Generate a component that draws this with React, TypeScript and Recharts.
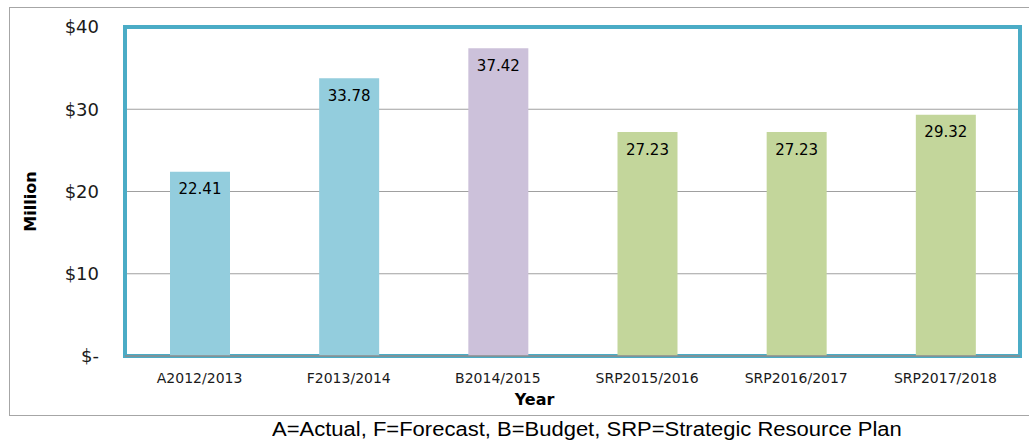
import React from 'react';
import { BarChart, Bar, XAxis, YAxis, CartesianGrid, Cell, LabelList, Label, ReferenceArea } from 'recharts';

const years = ['A2012/2013', 'F2013/2014', 'B2014/2015', 'SRP2015/2016', 'SRP2016/2017', 'SRP2017/2018'];
const amounts = [22.41, 33.78, 37.42, 27.23, 27.23, 29.32];
const barColors = ['#93cddd', '#93cddd', '#ccc1da', '#c3d69b', '#c3d69b', '#c3d69b'];
const yTicks = [0, 10, 20, 30, 40];

const data = years.map((year, i) => ({ year, amount: amounts[i] }));

const tickFont = '"DejaVu Sans", sans-serif';

function formatMoney(v: number): string {
	return v === 0 ? '$-' : `$${v}`;
}

export default function App() {
	return (
		<div style={{ position: 'absolute', left: 0, top: 0, width: 1029, height: 441, background: '#fff', overflow: 'hidden' }}>
			{/* outer chart frame */}
			<div
				style={{
					position: 'absolute',
					left: 9,
					top: 7,
					width: 1040,
					height: 407,
					border: '1.5px solid #a6a6a6',
				}}
			/>
			<div style={{ position: 'absolute', left: 0, top: 0 }}>
				<BarChart width={1029} height={441} data={data} margin={{ top: 27, right: 9, bottom: 0, left: 25 }} barSize={60}>
					<CartesianGrid horizontal vertical={false} stroke="#a0a0a0" strokeWidth={1.2} />
					<XAxis
						dataKey="year"
						height={85}
						tickLine={false}
						tickSize={0}
						tickMargin={17}
						axisLine={{ stroke: '#8c8c8c', strokeWidth: 1.5 }}
						tick={{ fill: '#1a1a1a', fontSize: 14, fontFamily: tickFont }}
						interval={0}
					>
						<Label
							value="Year"
							position="insideBottom"
							offset={36}
							dx={-38}
							style={{ fontFamily: tickFont, fontWeight: 'bold', fontSize: 16, fill: '#000' }}
						/>
					</XAxis>
					<YAxis
						width={100}
						domain={[0, 40]}
						ticks={yTicks}
						tickFormatter={formatMoney}
						tickLine={false}
						tickSize={0}
						tickMargin={26}
						axisLine={false}
						tick={{ fill: '#1a1a1a', fontSize: 18, fontFamily: tickFont }}
					>
						<Label
							value="Million"
							angle={-90}
							position="insideLeft"
							offset={5}
							dy={10}
							style={{ fontFamily: tickFont, fontWeight: 'bold', fontSize: 16, fill: '#000', textAnchor: 'middle' }}
						/>
					</YAxis>
					<Bar dataKey="amount" isAnimationActive={false}>
						{data.map((d, i) => (
							<Cell key={d.year} fill={barColors[i]} />
						))}
						<LabelList
							dataKey="amount"
							position="insideTop"
							offset={12}
							formatter={(v: number) => v.toFixed(2)}
							style={{ fill: '#000', fontSize: 15, fontFamily: tickFont }}
						/>
					</Bar>
					<ReferenceArea y1={0} y2={40} fill="none" stroke="#4bacc6" strokeWidth={4} ifOverflow="visible" />
				</BarChart>
			</div>
			<div
				style={{
					position: 'absolute',
					left: 272,
					top: 418,
					fontFamily: '"Liberation Sans", Arial, sans-serif',
					fontSize: 20,
					color: '#000',
					whiteSpace: 'nowrap',
					lineHeight: '22px',
					transform: 'scaleX(1.1)',
					transformOrigin: 'left center',
				}}
			>
				A=Actual, F=Forecast, B=Budget, SRP=Strategic Resource Plan
			</div>
		</div>
	);
}
